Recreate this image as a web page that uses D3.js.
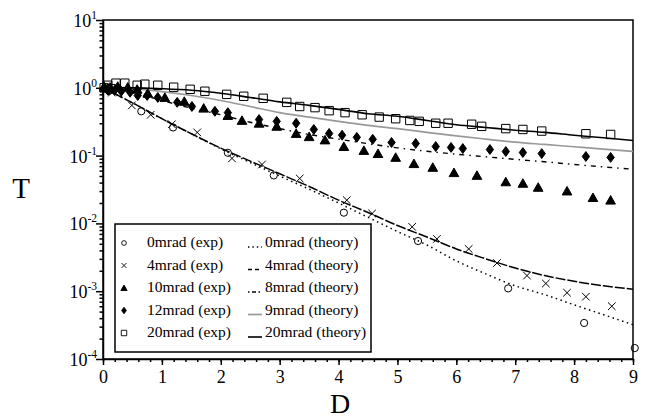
<!DOCTYPE html>
<html lang="en">
<head>
<meta charset="UTF-8" />
<title>T vs D</title>
<script src="https://d3js.org/d3.v7.min.js"></script>
<style>
  body { margin: 0; background: #fff; }
  svg { display: block; font-family: "Liberation Serif", "Times New Roman", serif; }
  .axis path, .axis line { stroke: #000; stroke-width: 1.5px; }
  .axis text { font-size: 18px; fill: #000; font-family: "Liberation Serif", serif; }
  .lg text { font-size: 15.5px; fill: #000; }
</style>
</head>
<body>
<svg id="chart" width="662" height="419"></svg>
<script>
// experimental points [D, T]
const exp0 = [[0.03,0.98],[0.1,0.9],[0.65,0.45],[1.19,0.26],[2.12,0.11],[2.9,0.051],[4.09,0.0144],
  [5.35,0.0055],[6.88,0.0011],[8.17,0.00034],[9.03,0.000145]];
const exp4 = [[0.05,0.93],[0.15,0.85],[0.49,0.55],[0.81,0.40],[1.17,0.29],[1.6,0.22],[2.19,0.091],
  [2.7,0.074],[3.34,0.046],[4.14,0.022],[4.57,0.014],[5.25,0.0089],[5.67,0.0059],[6.21,0.0042],
  [6.69,0.0026],[7.2,0.0017],[7.52,0.0013],[7.88,0.00095],[8.2,0.00083],[8.64,0.0006]];
const exp10 = [[0.02,1.05],[0.12,1.02],[0.25,1.05],[0.42,1.02],[0.58,0.95],[0.76,0.83],[1.05,0.72],
  [1.38,0.63],[1.71,0.50],[2.12,0.39],[2.36,0.33],[2.65,0.30],[2.95,0.27],[3.28,0.212],[3.5,0.19],
  [3.77,0.17],[4.09,0.136],[4.43,0.119],[4.67,0.107],[4.97,0.094],[5.28,0.076],[5.6,0.067],
  [5.96,0.056],[6.35,0.051],[6.84,0.041],[7.13,0.039],[7.39,0.034],[7.88,0.030],[8.32,0.024],[8.62,0.022]];
const exp12 = [[0.085,0.92],[0.2,0.92],[0.31,0.89],[0.46,0.86],[0.59,0.77],[0.75,0.77],[0.93,0.72],
  [1.26,0.61],[1.51,0.53],[1.9,0.45],[2.12,0.43],[2.65,0.34],[2.95,0.32],[3.28,0.30],[3.58,0.243],
  [3.84,0.212],[4.06,0.20],[4.31,0.186],[4.58,0.174],[4.9,0.156],[5.31,0.151],[5.65,0.136],
  [5.91,0.132],[6.11,0.127],[6.57,0.123],[6.84,0.115],[7.13,0.111],[7.45,0.107],[8.2,0.097],[8.62,0.094]];
const exp20 = [[0.02,1.0],[0.08,1.09],[0.14,0.97],[0.22,1.17],[0.37,1.17],[0.58,1.09],[0.71,1.13],
  [0.93,1.09],[1.2,1.02],[1.48,0.95],[1.73,0.89],[2.1,0.80],[2.39,0.75],[2.72,0.70],[3.12,0.61],
  [3.34,0.53],[3.6,0.51],[3.84,0.46],[4.11,0.43],[4.4,0.40],[4.69,0.37],[4.97,0.35],[5.21,0.33],
  [5.37,0.32],[5.65,0.30],[5.86,0.30],[6.26,0.29],[6.43,0.27],[6.84,0.25],[7.13,0.243],[7.45,0.23],
  [8.2,0.21],[8.62,0.205]];

// theory curves, T read at D = 0, 0.5, ... 9
const theoryD = [0,0.5,1,1.5,2,2.5,3,3.5,4,4.5,5,5.5,6,6.5,7,7.5,8,8.5,9];
const th0 = [1,0.60,0.35,0.21,0.126,0.079,0.05,0.032,0.02,0.0123,0.0076,0.0048,0.0028,0.0018,0.0012,0.00089,0.00063,0.00045,0.00032];
const th4 = [1,0.60,0.35,0.21,0.129,0.083,0.054,0.035,0.022,0.0145,0.0093,0.0063,0.0042,0.0030,0.0022,0.0017,0.0014,0.0012,0.00107];
const th8 = [1,0.85,0.65,0.5,0.4,0.31,0.25,0.205,0.175,0.15,0.13,0.116,0.105,0.096,0.088,0.081,0.074,0.068,0.063];
const th9 = [1,0.97,0.88,0.77,0.65,0.53,0.43,0.37,0.32,0.28,0.25,0.22,0.195,0.175,0.158,0.146,0.135,0.125,0.115];
const th20 = [1,1.0,0.97,0.92,0.83,0.72,0.62,0.55,0.48,0.415,0.38,0.33,0.285,0.26,0.237,0.22,0.2,0.183,0.167];

const xTicks = [0,1,2,3,4,5,6,7,8,9];
const yTicks = [1e-4,1e-3,1e-2,1e-1,1,10];
const yTickExp = ['-4','-3','-2','-1','0','1'];

const svg = d3.select('#chart');
const x = d3.scaleLinear().domain([0, 9]).range([103, 633]);
const y = d3.scaleLog().domain([1e-4, 10]).range([359, 20]);

// frame
svg.append('rect')
  .attr('x', 103).attr('y', 20).attr('width', 530).attr('height', 339)
  .attr('fill', 'none').attr('stroke', '#000').attr('stroke-width', 1.5);

// x axis
svg.append('g').attr('class', 'axis').attr('transform', 'translate(0,359)')
  .call(d3.axisBottom(x).tickValues(d3.range(0, 9.001, 0.2)).tickSize(3).tickSizeOuter(0).tickFormat(''))
  .select('.domain').remove();
svg.append('g').attr('class', 'axis').attr('transform', 'translate(0,359)')
  .call(d3.axisBottom(x).tickValues(xTicks).tickSize(6).tickSizeOuter(0).tickPadding(5).tickFormat(d3.format('d')));

// y axis
const minorY = y.ticks().filter(v => !yTicks.some(t => Math.abs(v - t) / t < 1e-6));
svg.append('g').attr('class', 'axis').attr('transform', 'translate(103,0)')
  .call(d3.axisLeft(y).tickValues(minorY).tickSize(3.5).tickSizeOuter(0).tickFormat(''))
  .select('.domain').remove();
svg.append('g').attr('class', 'axis').attr('transform', 'translate(103,0)')
  .call(d3.axisLeft(y).tickValues(yTicks).tickSize(7).tickSizeOuter(0).tickFormat(''));

const yl = svg.append('g').selectAll('text').data(yTicks).enter().append('text')
  .attr('x', 97).attr('y', d => y(d) + 7)
  .attr('text-anchor', 'end').attr('font-size', 18);
yl.append('tspan').text('10');
yl.append('tspan').attr('font-size', 11.5).attr('dy', -8).text((d, i) => yTickExp[i]);

svg.append('text').attr('x', 21).attr('y', 198).attr('text-anchor', 'middle')
  .attr('font-size', 29).text('T');
svg.append('text').attr('x', 340).attr('y', 413).attr('text-anchor', 'middle')
  .attr('font-size', 28).text('D');

// theory curves
const line = d3.line().x(d => x(d[0])).y(d => y(d[1])).curve(d3.curveMonotoneX);
const curves = [
  { t: th0, stroke: '#000', w: 1.5, dash: '1.5,3.5' },
  { t: th4, stroke: '#000', w: 1.5, dash: '10,2' },
  { t: th8, stroke: '#000', w: 1.4, dash: '5,5,1.5,5' },
  { t: th9, stroke: '#999', w: 1.7, dash: null },
  { t: th20, stroke: '#000', w: 1.6, dash: null },
];
curves.forEach(c => {
  svg.append('path')
    .datum(theoryD.map((d, i) => [d, c.t[i]]))
    .attr('d', line).attr('fill', 'none')
    .attr('stroke', c.stroke).attr('stroke-width', c.w)
    .attr('stroke-dasharray', c.dash);
});

// marker shapes
function shape(kind, s) {
  if (kind === 'circle') return `M${s},0A${s},${s} 0 1,1 ${-s},0A${s},${s} 0 1,1 ${s},0Z`;
  if (kind === 'cross') return `M${-s},${-s}L${s},${s}M${-s},${s}L${s},${-s}`;
  if (kind === 'tri') return `M0,${-s}L${s * 1.05},${s * 0.85}L${-s * 1.05},${s * 0.85}Z`;
  if (kind === 'diamond') return `M0,${-s * 1.15}L${s * 0.85},0L0,${s * 1.15}L${-s * 0.85},0Z`;
  return `M${-s},${-s}H${s}V${s}H${-s}Z`;
}
const series = [
  { data: exp0, kind: 'circle', size: 3.6, fill: 'none' },
  { data: exp4, kind: 'cross', size: 3.8, fill: 'none' },
  { data: exp10, kind: 'tri', size: 4.6, fill: '#000' },
  { data: exp12, kind: 'diamond', size: 4.3, fill: '#000' },
  { data: exp20, kind: 'square', size: 4.2, fill: 'none' },
];
series.forEach(s => {
  svg.append('g').selectAll('path').data(s.data).enter().append('path')
    .attr('transform', d => `translate(${x(d[0])},${y(d[1])})`)
    .attr('d', shape(s.kind, s.size))
    .attr('fill', s.fill).attr('stroke', '#000').attr('stroke-width', 1);
});

// legend
const expNames = ['0mrad (exp)', '4mrad (exp)', '10mrad (exp)', '12mrad (exp)', '20mrad (exp)'];
const thNames = ['0mrad (theory)', '4mrad (theory)', '8mrad (theory)', '9mrad (theory)', '20mrad (theory)'];
const rowY = [242, 264.5, 287, 309.5, 332];
const lg = svg.append('g').attr('class', 'lg');
lg.append('rect').attr('x', 115).attr('y', 224).attr('width', 256).attr('height', 128)
  .attr('fill', '#fff').attr('stroke', '#000').attr('stroke-width', 1.5);
series.forEach((s, i) => {
  lg.append('path').attr('transform', `translate(124,${rowY[i] + 1})`)
    .attr('d', shape(s.kind, s.size * 0.65))
    .attr('fill', s.fill).attr('stroke', '#000').attr('stroke-width', 0.9);
  lg.append('text').attr('x', 147).attr('y', rowY[i] + 5).text(expNames[i]);
});
curves.forEach((c, i) => {
  lg.append('line').attr('x1', 248).attr('x2', 262)
    .attr('y1', rowY[i] + 5).attr('y2', rowY[i] + 5)
    .attr('stroke', c.stroke).attr('stroke-width', c.w)
    .attr('stroke-dasharray', i === 2 ? '1.5,2.5,4,2.5' : (i === 1 ? '4,3' : (i === 0 ? '1.4,3' : null)));
  lg.append('text').attr('x', 265).attr('y', rowY[i] + 5).text(thNames[i]);
});
</script>
</body>
</html>
